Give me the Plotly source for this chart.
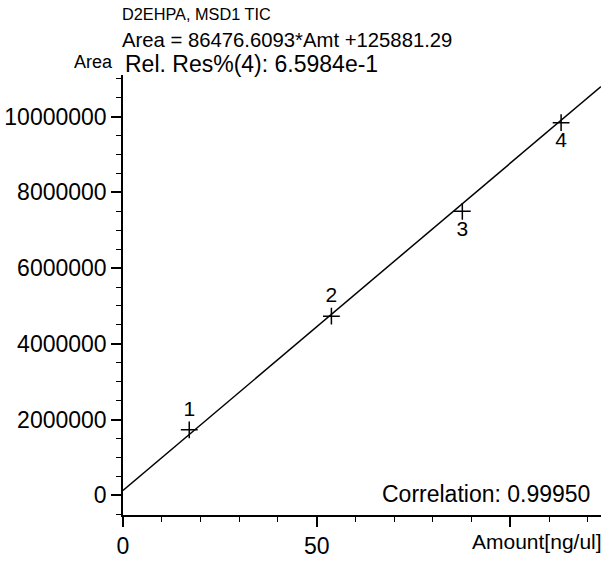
import plotly.graph_objects as go

# Data
amount = [17.1, 53.8, 87.6, 113.1]
area = [1730000, 4730000, 7500000, 9840000]
point_labels = ["1", "2", "3", "4"]
label_pos = ["top center", "top center", "bottom center", "bottom center"]

slope = 86476.6093
intercept = 125881.29
fit_x = [0, 123.4]
fit_y = [slope * v + intercept for v in fit_x]

y_tickvals = [0, 2000000, 4000000, 6000000, 8000000, 10000000]
y_ticktext = ["0", "2000000", "4000000", "6000000", "8000000", "10000000"]
x_tickvals = [0, 50, 100]
x_ticktext = ["0", "50", ""]

FONT = "Liberation Sans, Arial, sans-serif"

fig = go.Figure()
fig.add_trace(go.Scatter(x=fit_x, y=fit_y, mode="lines",
                         line=dict(color="black", width=1.5),
                         hoverinfo="skip", showlegend=False))
fig.add_trace(go.Scatter(x=amount, y=area, mode="markers+text",
                         text=point_labels, textposition=label_pos,
                         textfont=dict(family=FONT, size=21, color="black"),
                         marker=dict(symbol="cross-thin", size=12,
                                     line=dict(color="black", width=1.5)),
                         showlegend=False))

W, H = 605, 563
L, R, T, B = 122, 4, 75, 41
pw, ph = W - L - R, H - T - B

def px(x):
    return (x - L) / pw

def py(y):
    return (H - B - y) / ph

annotations = [
    dict(text="D2EHPA, MSD1 TIC", x=px(119), y=py(13), xanchor="left", yanchor="middle", size=16.3),
    dict(text="Area = 86476.6093*Amt +125881.29", x=px(119), y=py(39), xanchor="left", yanchor="middle", size=20.3),
    dict(text="Area", x=px(114), y=py(62), xanchor="right", yanchor="middle", size=18),
    dict(text="Rel. Res%(4): 6.5984e-1", x=px(122), y=py(64), xanchor="left", yanchor="middle", size=23),
    dict(text="Correlation: 0.99950", x=px(592), y=py(501), xanchor="right", yanchor="middle", size=23),
    dict(text="Amount[ng/ul]", x=px(604), y=py(549), xanchor="right", yanchor="middle", size=21),
]
fig.update_layout(
    width=W, height=H,
    margin=dict(l=L, r=R, t=T, b=B, pad=0),
    paper_bgcolor="white", plot_bgcolor="white",
    font=dict(family=FONT, color="black"),
    annotations=[dict(text=a["text"], x=a["x"], y=a["y"], xref="paper", yref="paper",
                      xanchor=a["xanchor"], yanchor=a["yanchor"], showarrow=False,
                      font=dict(family=FONT, size=a["size"], color="black"))
                 for a in annotations],
    xaxis=dict(range=[0, 123.4], showline=True, linecolor="black", linewidth=1.5,
               showgrid=False, zeroline=False,
               tickmode="array", tickvals=x_tickvals, ticktext=x_ticktext,
               ticks="outside", ticklen=10, tickwidth=1.5, tickcolor="black",
               tickfont=dict(family=FONT, size=23, color="black"),
               minor=dict(dtick=10, ticks="outside", ticklen=5, tickwidth=1.2, tickcolor="black")),
    yaxis=dict(range=[-520000, 11100000], showline=True, linecolor="black", linewidth=1.5,
               showgrid=False, zeroline=False,
               tickmode="array", tickvals=y_tickvals, ticktext=y_ticktext,
               ticks="outside", ticklen=10, tickwidth=1.5, tickcolor="black",
               tickfont=dict(family=FONT, size=23, color="black"),
               minor=dict(dtick=500000, tick0=0, ticks="outside", ticklen=5, tickwidth=1.2, tickcolor="black")),
)

# remove the browser's default 8px page margin so the figure fills the window
fig.write_html("out.html", config={"displayModeBar": False},
               post_script="document.body.style.margin='0px';")
